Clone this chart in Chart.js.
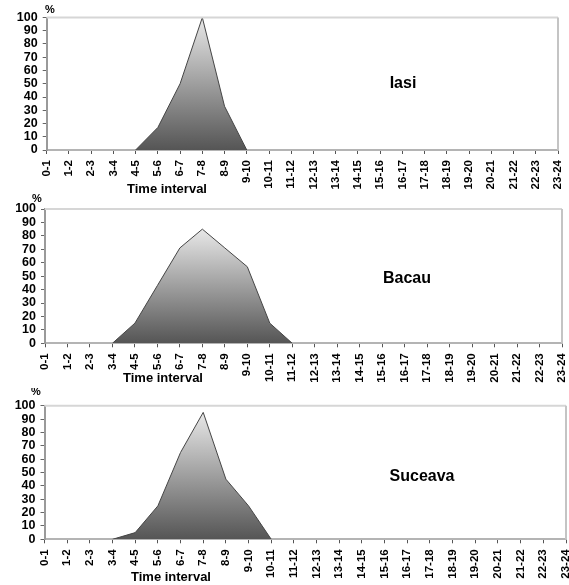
<!DOCTYPE html>
<html>
<head>
<meta charset="utf-8">
<script src="https://cdn.jsdelivr.net/npm/chart.js@4"></script>
<style>
  html, body { margin: 0; padding: 0; background: #fff; }
  body { width: 569px; height: 585px; position: relative; overflow: hidden; }
  .box { position: absolute; left: 0; width: 569px; }
  canvas { display: block; }
</style>
</head>
<body>
<div class="box" id="b1" style="top:0px;height:196px"><canvas id="c1"></canvas></div>
<div class="box" id="b2" style="top:192px;height:196px"><canvas id="c2"></canvas></div>
<div class="box" id="b3" style="top:388px;height:197px"><canvas id="c3"></canvas></div>
<script>
// ---- data ----
const categories = ["0-1","1-2","2-3","3-4","4-5","5-6","6-7","7-8","8-9","9-10","10-11","11-12",
  "12-13","13-14","14-15","15-16","16-17","17-18","18-19","19-20","20-21","21-22","22-23","23-24"];
const yTicks = [0,10,20,30,40,50,60,70,80,90,100];
const iasiValues    = [null,null,null,null,0,17,50,100,33,0,null,null,null,null,null,null,null,null,null,null,null,null,null,null];
const bacauValues   = [null,null,null,0,15,43,71,85,71,57,15,0,null,null,null,null,null,null,null,null,null,null,null,null];
const suceavaValues = [null,null,null,0,5,25,65,95,45,25,0,null,null,null,null,null,null,null,null,null,null,null,null,null];
const cityNames = ["Iasi","Bacau","Suceava"];
const axisTitle = "Time interval";
const unitLabel = "%";

const FONT = "'Liberation Sans', Arial, sans-serif";

function makeChart(canvasId, values, city, lay) {
  const textPlugin = {
    id: 'texts',
    afterDraw(chart) {
      const ctx = chart.ctx;
      const a = chart.chartArea;
      ctx.save();
      ctx.lineWidth = 2;
      ctx.strokeStyle = '#d6d6d6';
      ctx.beginPath();
      ctx.moveTo(a.left, a.top);
      ctx.lineTo(a.right, a.top);
      ctx.stroke();
      ctx.strokeStyle = '#c4c4c4';
      ctx.beginPath();
      ctx.moveTo(a.right, a.top);
      ctx.lineTo(a.right, a.bottom);
      ctx.stroke();
      ctx.fillStyle = '#000';
      ctx.textAlign = 'center';
      ctx.textBaseline = 'middle';
      ctx.font = 'bold 11px ' + FONT;
      ctx.fillText(unitLabel, lay.pct[0], lay.pct[1]);
      ctx.font = 'bold 13px ' + FONT;
      ctx.fillText(axisTitle, lay.title[0], lay.title[1]);
      ctx.font = 'bold 16px ' + FONT;
      ctx.fillText(city, lay.city[0], lay.city[1]);
      ctx.restore();
    }
  };
  const maxVal = Math.max(...values.filter(v => v !== null));
  return new Chart(document.getElementById(canvasId), {
    type: 'line',
    data: {
      labels: categories,
      datasets: [{
        data: values,
        borderColor: '#454545',
        borderWidth: 1,
        pointRadius: 0,
        tension: 0,
        fill: 'origin',
        spanGaps: false,
        backgroundColor: (c) => {
          const ch = c.chart;
          const a = ch.chartArea;
          if (!a) return '#999';
          const yTop = ch.scales.y.getPixelForValue(maxVal);
          const g = ch.ctx.createLinearGradient(0, yTop, 0, a.bottom);
          g.addColorStop(0, '#e8e8e8');
          g.addColorStop(1, '#555555');
          return g;
        }
      }]
    },
    options: {
      responsive: true,
      maintainAspectRatio: false,
      animation: false,
      events: [],
      layout: { padding: { top: lay.top, right: lay.right, left: 0, bottom: 0 } },
      plugins: { legend: { display: false }, tooltip: { enabled: false } },
      scales: {
        x: {
          type: 'category',
          offset: false,
          grid: { display: true, drawOnChartArea: false, drawTicks: true, tickLength: 4, color: '#555' },
          border: { display: true, color: '#b4b4b4', width: 2 },
          ticks: {
            autoSkip: false, minRotation: 90, maxRotation: 90, padding: 6,
            color: '#000', font: { family: FONT, size: 11.5, weight: 'bold' }
          },
          afterFit: (s) => { s.height = lay.xh; s.paddingLeft = 0; s.paddingRight = 0; }
        },
        y: {
          min: 0, max: 100,
          afterBuildTicks: (s) => { s.ticks = yTicks.map(v => ({ value: v })); },
          grid: { display: true, drawOnChartArea: false, drawTicks: true, tickLength: 4, color: '#666' },
          border: { display: true, color: '#9a9a9a', width: 2 },
          ticks: { autoSkip: false, padding: 5, color: '#000', font: { family: FONT, size: 12.5, weight: 'bold' } },
          afterFit: (s) => { s.width = lay.left; s.paddingTop = 0; s.paddingBottom = 0; }
        }
      }
    },
    plugins: [textPlugin]
  });
}

makeChart('c1', iasiValues, cityNames[0], {
  top: 17.5, right: 11, left: 46.7, xh: 46,
  pct: [50, 10], title: [167, 189], city: [403, 84]
});
makeChart('c2', bacauValues, cityNames[1], {
  top: 17, right: 7, left: 45, xh: 44.7,
  pct: [37, 7], title: [163, 186], city: [407, 87]
});
makeChart('c3', suceavaValues, cityNames[2], {
  top: 17.7, right: 3, left: 44.5, xh: 45.7,
  pct: [36, 4], title: [171, 189], city: [422, 89]
});
</script>
</body>
</html>
